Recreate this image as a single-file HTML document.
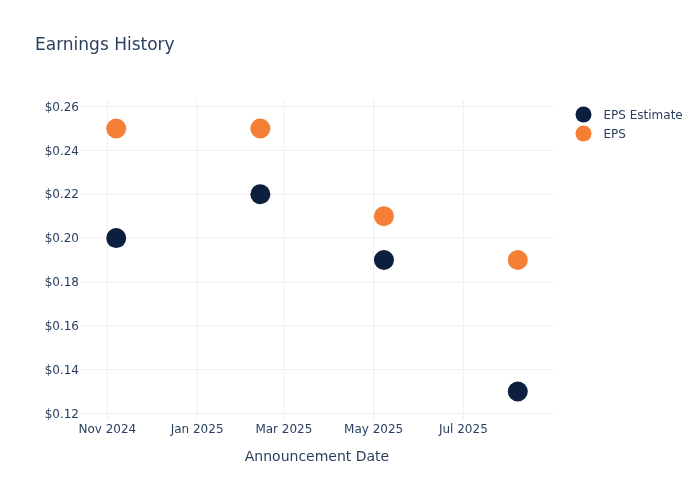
<!DOCTYPE html>
<html><head><meta charset="utf-8"><title>Earnings History</title>
<style>
html,body{margin:0;padding:0;background:#fff;}
body{width:700px;height:500px;overflow:hidden;}
svg{display:block;}
text{font-family:"DejaVu Sans","Liberation Sans",sans-serif;fill:#2a3f5f;}
</style></head><body>
<svg width="700" height="500" viewBox="0 0 700 500" xmlns="http://www.w3.org/2000/svg">
<rect x="0" y="0" width="700" height="500" fill="#ffffff"/>
<rect x="80" y="100" width="474" height="320" fill="#ffffff"/>
<g stroke="#ebf0f8" stroke-width="1" fill="none">
<path d="M107.37,100V420"/>
<path d="M197.11,100V420"/>
<path d="M283.90,100V420"/>
<path d="M373.64,100V420"/>
<path d="M463.37,100V420"/>
<path d="M80,106.58H554"/>
<path d="M80,150.42H554"/>
<path d="M80,194.25H554"/>
<path d="M80,238.08H554"/>
<path d="M80,281.92H554"/>
<path d="M80,325.75H554"/>
<path d="M80,369.58H554"/>
<path d="M80,413.42H554"/>
</g>
<g fill="#0c1f3f">
<circle cx="116.2" cy="238.08" r="10"/>
<circle cx="260.36" cy="194.25" r="10"/>
<circle cx="383.93" cy="260.00" r="10"/>
<circle cx="517.8" cy="391.50" r="10"/>
</g><g fill="#f58035">
<circle cx="116.2" cy="128.50" r="10"/>
<circle cx="260.36" cy="128.50" r="10"/>
<circle cx="383.93" cy="216.17" r="10"/>
<circle cx="517.8" cy="260.00" r="10"/>
</g>
<g font-size="12px" text-anchor="middle">
<text x="107.37" y="433">Nov 2024</text>
<text x="197.11" y="433">Jan 2025</text>
<text x="283.90" y="433">Mar 2025</text>
<text x="373.64" y="433">May 2025</text>
<text x="463.37" y="433">Jul 2025</text>
</g><g font-size="12px" text-anchor="end">
<text x="79" y="110.78">$0.26</text>
<text x="79" y="154.62">$0.24</text>
<text x="79" y="198.45">$0.22</text>
<text x="79" y="242.28">$0.20</text>
<text x="79" y="286.12">$0.18</text>
<text x="79" y="329.95">$0.16</text>
<text x="79" y="373.78">$0.14</text>
<text x="79" y="417.62">$0.12</text>
</g>
<circle cx="583.5" cy="114.5" r="8" fill="#0c1f3f"/><text x="603.5" y="118.7" font-size="12px">EPS Estimate</text>
<circle cx="583.5" cy="133.5" r="8" fill="#f58035"/><text x="603.5" y="137.7" font-size="12px">EPS</text>
<text x="35" y="50" font-size="17px">Earnings History</text>
<text x="317" y="461" font-size="14px" text-anchor="middle">Announcement Date</text>
</svg></body></html>
